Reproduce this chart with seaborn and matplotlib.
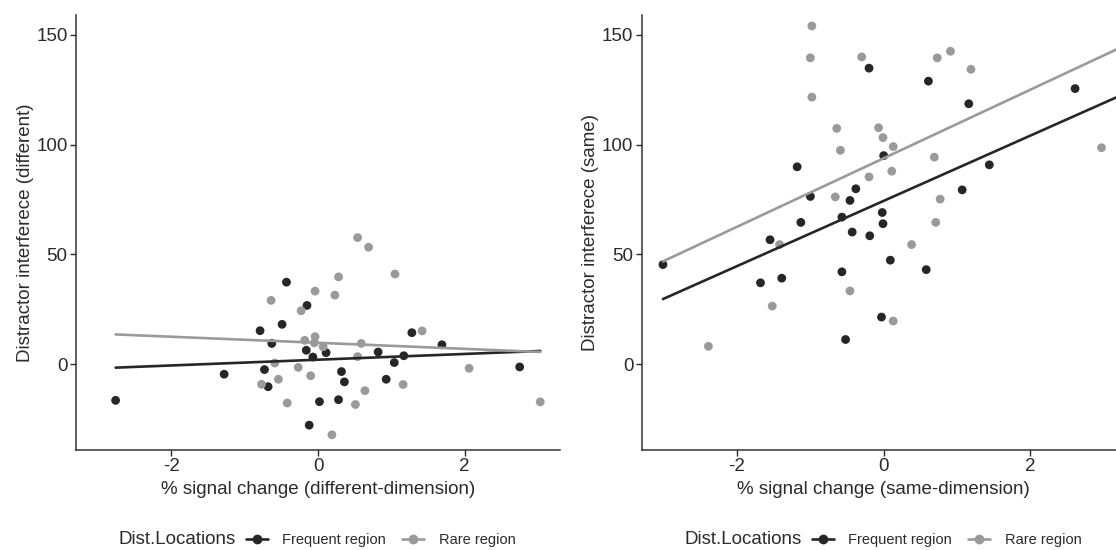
import numpy as np
import pandas as pd
import seaborn as sns
import matplotlib.pyplot as plt
from matplotlib.lines import Line2D

# --- data ---
# left panel: different-dimension
diff_freq_x = [-2.76, -1.28, -0.79, -0.73, -0.68, -0.63, -0.49, -0.43, -0.15, -0.16, -0.07, -0.12,
               0.02, 0.11, 0.28, 0.32, 0.36, 0.82, 0.93, 1.04, 1.17, 1.28, 1.69, 2.75]
diff_freq_y = [-16.4, -4.5, 15.3, -2.4, -10.2, 9.5, 18.2, 37.4, 26.8, 6.4, 3.3, -27.7,
               -17.0, 5.3, -16.1, -3.3, -8.0, 5.6, -6.8, 0.8, 3.9, 14.4, 8.9, -1.2]
diff_rare_x = [0.54, 0.69, 1.05, 0.28, -0.04, 0.23, -0.64, -0.23, 1.42, -0.04, -0.18, -0.05, 0.07,
               0.59, 0.54, -0.59, -0.27, 2.06, -0.10, -0.54, -0.77, 1.16, 0.64, -0.42, 0.51, 3.03, 0.19]
diff_rare_y = [57.7, 53.3, 41.1, 39.8, 33.3, 31.5, 29.1, 24.4, 15.2, 12.6, 10.9, 9.8, 8.0,
               9.5, 3.5, 0.6, -1.4, -1.8, -5.2, -6.8, -9.1, -9.2, -12.0, -17.6, -18.3, -17.1, -32.1]

# right panel: same-dimension
same_freq_x = [-3.01, -1.68, -1.55, -1.39, -1.18, -1.13, -1.00, -0.57, -0.57, -0.52, -0.46, -0.43, -0.38,
               -0.20, -0.19, -0.02, -0.01, -0.03, 0.00, 0.09, 0.58, 0.61, 1.07, 1.16, 1.44, 2.61]
same_freq_y = [45.4, 37.1, 56.7, 39.2, 89.9, 64.6, 76.4, 67.0, 42.1, 11.3, 74.6, 60.2, 79.9,
               134.8, 58.5, 69.1, 64.0, 21.5, 95.0, 47.4, 43.1, 128.9, 79.4, 118.6, 90.8, 125.5]
same_rare_x = [-0.98, -1.00, -0.98, -0.30, 0.73, 0.91, 1.19, -0.64, -0.59, -0.07, -0.01, 0.13, 0.69,
               0.11, -0.20, -0.66, 0.77, 0.71, -1.42, 0.38, -0.46, -1.52, 0.13, -2.39, 2.97]
same_rare_y = [154.0, 139.5, 121.6, 139.9, 139.5, 142.5, 134.3, 107.4, 97.4, 107.7, 103.2, 99.1, 94.3,
               87.9, 85.3, 76.2, 75.2, 64.6, 54.5, 54.5, 33.4, 26.5, 19.7, 8.2, 98.6]

groups = ["Frequent region", "Rare region"]
colors = {"Frequent region": "#262626", "Rare region": "#9a9a9a"}

# regression lines as drawn in the picture (intercept, slope), plus their x extent
# (the right panel is cut off, so its fits are read off the visible lines)
fit_diff = {"Frequent region": (2.1, 1.31), "Rare region": (9.8, -1.38)}
fit_same = {"Frequent region": (74.4, 14.85), "Rare region": (93.8, 15.6)}
span_diff = [-2.76, 3.03]
span_same = [-3.01, 3.3]


def make_df(fx, fy, rx, ry):
    return pd.DataFrame({
        "x": fx + rx,
        "y": fy + ry,
        "grp": [groups[0]] * len(fx) + [groups[1]] * len(rx),
    })


def make_lines(fit, span):
    rows = []
    for g in groups:
        a, b = fit[g]
        for x in span:
            rows.append({"x": x, "y": a + b * x, "grp": g})
    return pd.DataFrame(rows)


df_diff = make_df(diff_freq_x, diff_freq_y, diff_rare_x, diff_rare_y)
df_same = make_df(same_freq_x, same_freq_y, same_rare_x, same_rare_y)

sns.set_theme(style="ticks")
plt.rcParams["font.family"] = ["Liberation Sans", "DejaVu Sans"]
plt.rcParams["axes.unicode_minus"] = False
txt = "#2b2b2b"

fig = plt.figure(figsize=(11.16, 5.5), dpi=100)
W, H = 1116, 550
ax1 = fig.add_axes([76 / W, 100 / H, 484 / W, 435 / H])
ax2 = fig.add_axes([641.7 / W, 100 / H, 484 / W, 435 / H])


def draw(ax, df, lines, xlabel, ylabel):
    sns.scatterplot(data=df, x="x", y="y", hue="grp", palette=colors, s=40,
                    edgecolor="none", legend=False, ax=ax, zorder=2)
    sns.lineplot(data=lines, x="x", y="y", hue="grp", palette=colors, lw=1.9,
                 legend=False, ax=ax, zorder=3, estimator=None, sort=False)
    ax.set_xlim(-3.3, 3.3)
    ax.set_ylim(-39, 159)
    ax.set_xticks([-2, 0, 2])
    ax.set_yticks([0, 50, 100, 150])
    ax.set_xlabel(xlabel, fontsize=13.5, color=txt, labelpad=4)
    ax.set_ylabel(ylabel, fontsize=13.5, color=txt, labelpad=2)
    ax.tick_params(labelsize=13.5, colors=txt, length=4, width=1, pad=2)
    for s in ["top", "right"]:
        ax.spines[s].set_visible(False)
    for s in ["left", "bottom"]:
        ax.spines[s].set_color("#333333")
        ax.spines[s].set_linewidth(1.1)


draw(ax1, df_diff, make_lines(fit_diff, span_diff), "% signal change (different-dimension)",
     "Distractor interferece (different)")
draw(ax2, df_same, make_lines(fit_same, span_same), "% signal change (same-dimension)",
     "Distractor interferece (same)")

handles = [Line2D([], [], color=colors[g], marker="o", markersize=6, lw=1.9) for g in groups]
for off in [0, 566]:
    fig.text((236 + off) / W, 1 - 540 / H, "Dist.Locations", ha="right", va="center",
             fontsize=13.5, color=txt)
    fig.legend(handles, groups, loc="center left", bbox_to_anchor=((246 + off) / W, 1 - 540 / H),
               ncol=2, frameon=False, fontsize=10.5, handlelength=1.5, handletextpad=1.0,
               columnspacing=1.1, borderpad=0, borderaxespad=0, labelcolor=txt)

fig.savefig("out.png", dpi=100)
